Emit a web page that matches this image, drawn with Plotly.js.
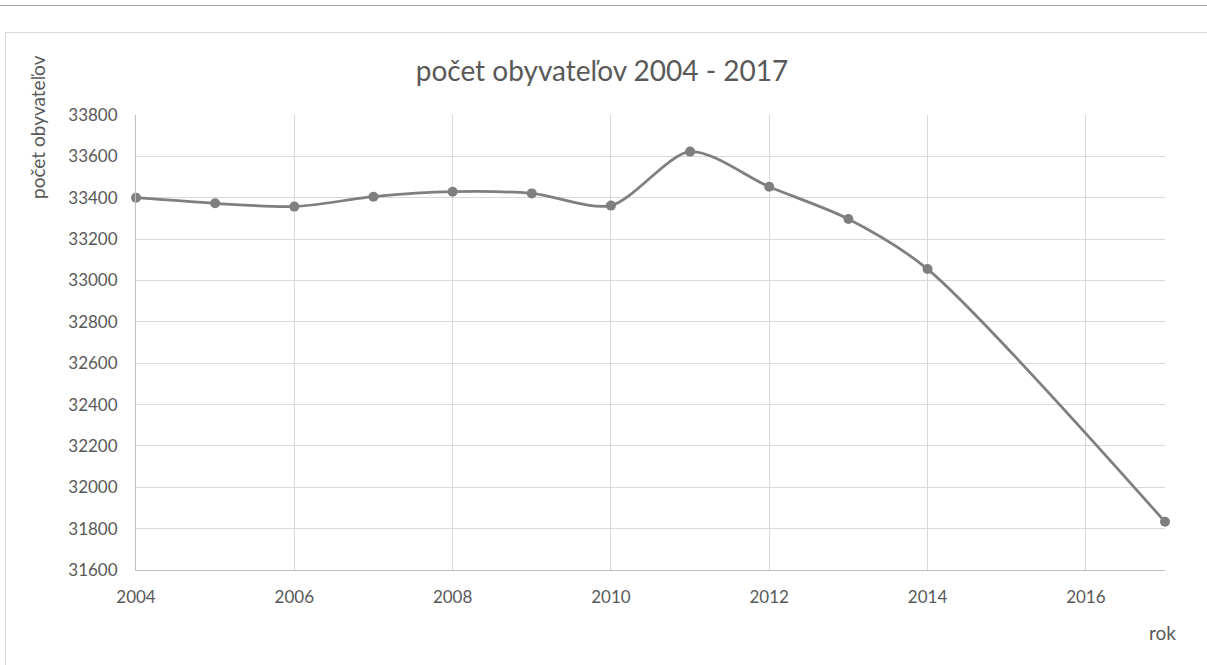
<!DOCTYPE html>
<html>
<head>
<meta charset="utf-8">
<script src="https://cdn.plot.ly/plotly-3.0.1.min.js"></script>
<style>
  html, body { margin: 0; padding: 0; background: #ffffff; }
  #wrap { position: relative; width: 1207px; height: 665px; overflow: hidden; }
  #chart { position: absolute; left: 0; top: 0; width: 1207px; height: 665px; }
  .ln { position: absolute; pointer-events: none; }
</style>
</head>
<body>
<div id="wrap">
  <div id="chart"></div>
  <div class="ln" style="left:0;top:5px;width:1207px;height:1px;background:#a6a6a6;"></div>
  <div class="ln" style="left:5px;top:32px;width:1202px;height:1px;background:#d9d9d9;"></div>
  <div class="ln" style="left:5px;top:32px;width:1px;height:640px;background:#d9d9d9;"></div>
</div>
<script>
const years = [2004, 2005, 2006, 2007, 2008, 2009, 2010, 2011, 2012, 2013, 2014, 2017];
const population = [33400, 33373, 33357, 33405, 33429, 33421, 33362, 33623, 33453, 33297, 33055, 31833];
const xTicks = [2004, 2006, 2008, 2010, 2012, 2014, 2016];
const yTicks = [31600, 31800, 32000, 32200, 32400, 32600, 32800, 33000, 33200, 33400, 33600, 33800];

const FONT = 'Lato, "Open Sans", sans-serif';
const TXT = '#595959';

const trace = {
  x: years,
  y: population,
  type: 'scatter',
  mode: 'lines+markers',
  cliponaxis: false,
  line: { color: '#7f7f7f', width: 2.75, shape: 'spline', smoothing: 0.8 },
  marker: { color: '#7f7f7f', size: 10 },
  hoverinfo: 'x+y'
};

const layout = {
  width: 1207,
  height: 665,
  margin: { l: 136, r: 42, t: 115, b: 95 },
  paper_bgcolor: 'rgba(0,0,0,0)',
  plot_bgcolor: '#ffffff',
  showlegend: false,
  title: {
    text: 'počet obyvateľov 2004 - 2017',
    font: { family: FONT, size: 28, color: TXT },
    x: 602 / 1207, xanchor: 'center',
    y: 1 - 71 / 665, yanchor: 'middle'
  },
  xaxis: {
    range: [2004, 2017],
    tickvals: xTicks,
    ticktext: xTicks.map(String),
    showgrid: true,
    gridcolor: '#d9d9d9',
    gridwidth: 1,
    showline: true,
    linecolor: '#bfbfbf',
    linewidth: 1,
    zeroline: false,
    ticks: '',
    ticklabelstandoff: 12,
    tickfont: { family: FONT, size: 17, color: TXT }
  },
  yaxis: {
    range: [31600, 33800],
    tickvals: yTicks,
    ticktext: yTicks.map(String),
    showgrid: true,
    gridcolor: '#d9d9d9',
    gridwidth: 1,
    showline: true,
    linecolor: '#bfbfbf',
    linewidth: 1,
    zeroline: false,
    ticks: '',
    ticklabelstandoff: 14,
    tickfont: { family: FONT, size: 17, color: TXT }
  },
  annotations: [
    {
      text: 'počet obyvateľov',
      textangle: -90,
      xref: 'paper', yref: 'paper',
      x: -99 / 1029, y: 1 + (115 - 127) / 455,
      xanchor: 'center', yanchor: 'middle',
      showarrow: false,
      font: { family: FONT, size: 19, color: TXT }
    },
    {
      text: 'rok',
      xref: 'paper', yref: 'paper',
      x: 1 + 13 / 1029, y: -62 / 455,
      xanchor: 'right', yanchor: 'middle',
      showarrow: false,
      font: { family: FONT, size: 19, color: TXT }
    }
  ]
};

Plotly.newPlot('chart', [trace], layout, { displayModeBar: false });
</script>
</body>
</html>
